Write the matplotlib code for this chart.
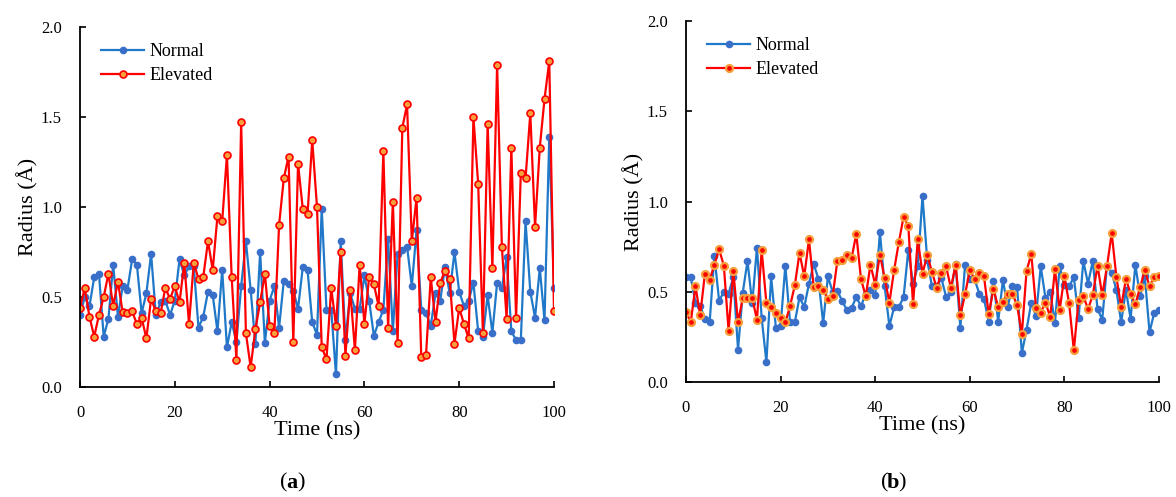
import matplotlib
matplotlib.use("Agg")
import matplotlib.pyplot as plt

plt.rcParams["font.family"] = ["Liberation Serif", "DejaVu Serif"]

# tempo (ns)
time_ns = list(range(101))

# painel (a)
normal_a = [0.40, 0.50, 0.45, 0.61, 0.63, 0.28, 0.38, 0.68, 0.39, 0.56, 0.54, 0.71, 0.68, 0.41, 0.52, 0.74, 0.40, 0.47,
            0.48, 0.40, 0.48, 0.71, 0.62, 0.67, 0.67, 0.33, 0.39, 0.53, 0.51, 0.31, 0.65, 0.22, 0.36, 0.25, 0.56, 0.81,
            0.54, 0.24, 0.75, 0.245, 0.48, 0.56, 0.33, 0.59, 0.57, 0.535, 0.435, 0.665, 0.65, 0.36, 0.29, 0.99, 0.43,
            0.43, 0.07, 0.81, 0.26, 0.52, 0.435, 0.435, 0.62, 0.48, 0.285, 0.36, 0.43, 0.82, 0.31, 0.74, 0.76, 0.78,
            0.56, 0.87, 0.43, 0.41, 0.34, 0.52, 0.48, 0.665, 0.52, 0.75, 0.53, 0.45, 0.48, 0.58, 0.31, 0.28, 0.51,
            0.30, 0.58, 0.55, 0.72, 0.31, 0.26, 0.26, 0.92, 0.53, 0.385, 0.66, 0.37, 1.39, 0.55]
elevated_a = [0.44, 0.55, 0.39, 0.28, 0.40, 0.50, 0.63, 0.45, 0.585, 0.415, 0.41, 0.42, 0.35, 0.385, 0.27, 0.49, 0.42,
              0.41, 0.55, 0.49, 0.56, 0.47, 0.69, 0.35, 0.69, 0.60, 0.61, 0.81, 0.65, 0.95, 0.92, 1.29, 0.61, 0.15,
              1.47, 0.30, 0.11, 0.32, 0.47, 0.63, 0.34, 0.30, 0.90, 1.16, 1.28, 0.25, 1.24, 0.99, 0.96, 1.37, 1.00,
              0.22, 0.155, 0.55, 0.34, 0.75, 0.175, 0.54, 0.205, 0.68, 0.35, 0.61, 0.57, 0.45, 1.31, 0.33, 1.03, 0.245,
              1.44, 1.57, 0.81, 1.05, 0.165, 0.18, 0.61, 0.36, 0.58, 0.645, 0.60, 0.24, 0.44, 0.35, 0.27, 1.50, 1.13,
              0.30, 1.46, 0.66, 1.79, 0.78, 0.38, 1.33, 0.385, 1.19, 1.16, 1.52, 0.89, 1.33, 1.60, 1.81, 0.42]

# painel (b)
normal_b = [0.58, 0.58, 0.44, 0.42, 0.35, 0.33, 0.70, 0.45, 0.50, 0.49, 0.58, 0.18, 0.495, 0.67, 0.435, 0.745, 0.355,
            0.11, 0.585, 0.30, 0.31, 0.645, 0.33, 0.33, 0.47, 0.415, 0.545, 0.655, 0.57, 0.325, 0.585, 0.50, 0.505,
            0.45, 0.40, 0.41, 0.47, 0.42, 0.49, 0.51, 0.48, 0.83, 0.53, 0.31, 0.415, 0.415, 0.47, 0.73, 0.545, 0.64,
            1.03, 0.675, 0.53, 0.53, 0.575, 0.47, 0.50, 0.655, 0.30, 0.65, 0.57, 0.57, 0.49, 0.46, 0.335, 0.56, 0.335,
            0.565, 0.415, 0.53, 0.525, 0.16, 0.29, 0.44, 0.365, 0.64, 0.465, 0.50, 0.325, 0.64, 0.535, 0.53, 0.58,
            0.355, 0.67, 0.545, 0.67, 0.405, 0.345, 0.645, 0.605, 0.51, 0.33, 0.51, 0.35, 0.65, 0.475, 0.585, 0.275,
            0.385, 0.40]
elevated_b = [0.39, 0.33, 0.53, 0.37, 0.60, 0.565, 0.65, 0.735, 0.645, 0.285, 0.615, 0.33, 0.465, 0.465, 0.465, 0.345,
              0.73, 0.435, 0.415, 0.385, 0.355, 0.33, 0.42, 0.535, 0.715, 0.585, 0.79, 0.525, 0.53, 0.51, 0.46, 0.475,
              0.67, 0.675, 0.705, 0.685, 0.82, 0.57, 0.475, 0.65, 0.54, 0.705, 0.575, 0.44, 0.62, 0.775, 0.915, 0.865,
              0.43, 0.79, 0.60, 0.705, 0.61, 0.52, 0.605, 0.64, 0.52, 0.65, 0.37, 0.485, 0.62, 0.57, 0.605, 0.585,
              0.375, 0.515, 0.415, 0.445, 0.49, 0.49, 0.425, 0.265, 0.615, 0.71, 0.41, 0.385, 0.44, 0.36, 0.625, 0.40,
              0.585, 0.435, 0.175, 0.455, 0.475, 0.405, 0.48, 0.645, 0.48, 0.64, 0.825, 0.58, 0.415, 0.57, 0.49, 0.43,
              0.525, 0.62, 0.53, 0.58, 0.585]

x_ticks = [0, 20, 40, 60, 80, 100]
y_ticks = [0.0, 0.5, 1.0, 1.5, 2.0]

blue_line = "#1f78c8"
blue_mk = "#3a6fc9"
red_line = "#ff0000"
orange = "#f5a03c"

fig = plt.figure(figsize=(11.76, 4.97), dpi=100)
ax_a = fig.add_axes([80 / 1176, 1 - 387 / 497, 474 / 1176, 360 / 497])
ax_b = fig.add_axes([686 / 1176, 1 - 382 / 497, 473 / 1176, 361 / 497])

ax_a.plot(time_ns, normal_a, color=blue_line, lw=1.6, marker="o", ms=4.5,
          mfc=blue_mk, mec=blue_mk, label="Normal")
ax_a.plot(time_ns, elevated_a, color=red_line, lw=1.6, marker="o", ms=5,
          mfc=orange, mec=red_line, mew=1.2, label="Elevated")

ax_b.plot(time_ns, normal_b, color=blue_line, lw=1.6, marker="o", ms=4.5,
          mfc=blue_mk, mec=blue_mk, label="Normal")
ax_b.plot(time_ns, elevated_b, color=red_line, lw=1.6, marker="o", ms=5,
          mfc=red_line, mec=orange, mew=1.6, label="Elevated")

for ax in [ax_a, ax_b]:
    ax.set_xlim(0, 100)
    ax.set_ylim(0, 2.0)
    ax.set_xticks(x_ticks)
    ax.set_yticks(y_ticks)
    ax.set_yticklabels([f"{v:.1f}" for v in y_ticks])
    ax.spines["top"].set_visible(False)
    ax.spines["right"].set_visible(False)
    for s in ["left", "bottom"]:
        ax.spines[s].set_linewidth(1.3)
    ax.tick_params(direction="in", length=4, width=1.2, labelsize=12, pad=13)
    ax.set_xlabel("Time (ns)", fontsize=16, labelpad=0)
    ax.set_ylabel("Radius (Å)", fontsize=16, labelpad=2)
    ax.legend(loc="upper left", bbox_to_anchor=(0.01, 1.0), frameon=False,
              fontsize=13, handlelength=2.4, handletextpad=0.3, labelspacing=0.4)

# rótulos (a) e (b) com letra em negrito
for cx, letter in [(292, "a"), (893, "b")]:
    y = 1 - 483 / 497
    fig.text(cx / 1176, y, letter, fontsize=16, fontweight="bold", ha="center", va="center")
    fig.text((cx - 5) / 1176, y, "(", fontsize=16, ha="right", va="center")
    fig.text((cx + 5) / 1176, y, ")", fontsize=16, ha="left", va="center")

fig.savefig("out.png", dpi=100)
